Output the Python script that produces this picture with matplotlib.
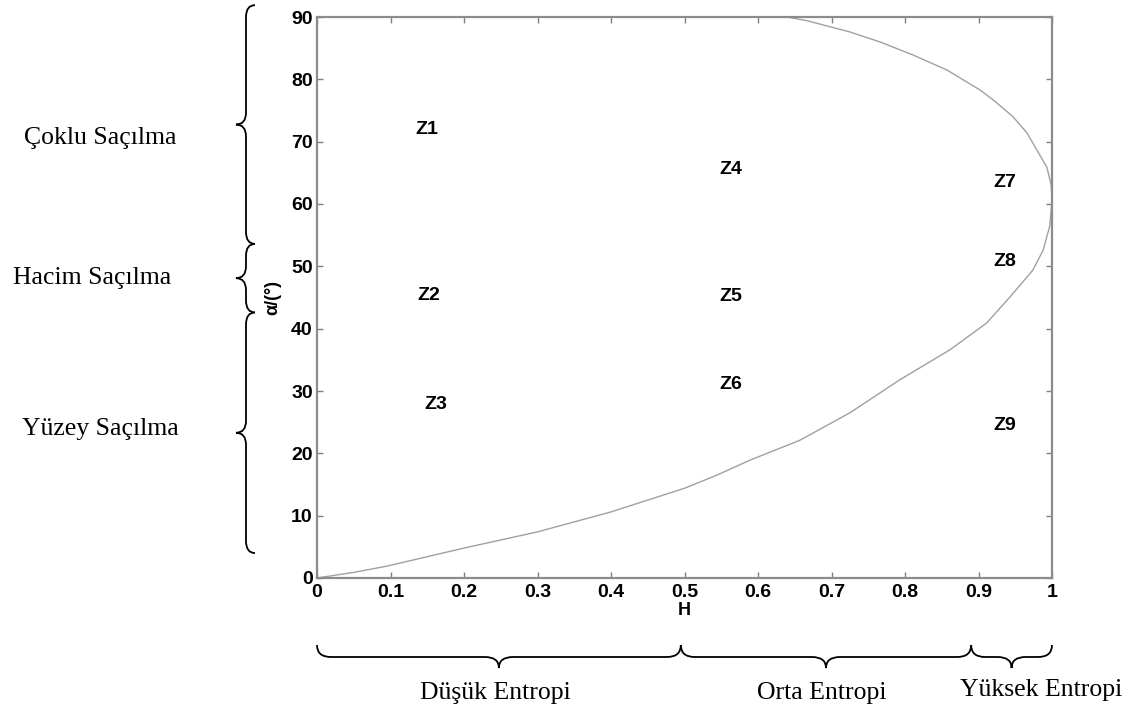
import matplotlib.pyplot as plt
from matplotlib.path import Path
from matplotlib.patches import PathPatch

# boundary curve of the H-alpha plane
H_curve = [0.0, 0.05, 0.095, 0.2, 0.3, 0.4, 0.5, 0.544, 0.589, 0.657, 0.725,
           0.793, 0.861, 0.911, 0.943, 0.974, 0.988, 0.997, 1.0, 0.999, 0.993,
           0.966, 0.947, 0.92, 0.902, 0.857, 0.811, 0.766, 0.725, 0.667, 0.639]
alpha_curve = [0.0, 0.9, 1.9, 4.8, 7.4, 10.6, 14.4, 16.5, 18.9, 22.1, 26.5,
               31.8, 36.6, 40.9, 45.1, 49.4, 52.6, 56.5, 60.5, 63.0, 65.9,
               71.4, 74.0, 76.7, 78.3, 81.5, 83.9, 86.0, 87.6, 89.4, 90.0]

zone_names = ['Z1', 'Z2', 'Z3', 'Z4', 'Z5', 'Z6', 'Z7', 'Z8', 'Z9']
zone_H = [0.150, 0.152, 0.162, 0.563, 0.563, 0.563, 0.936, 0.936, 0.936]
zone_alpha = [71.9, 45.4, 27.8, 65.5, 45.1, 31.0, 63.5, 50.7, 24.4]

x_ticks = [0, 0.1, 0.2, 0.3, 0.4, 0.5, 0.6, 0.7, 0.8, 0.9, 1.0]
x_ticklabels = ['0', '0.1', '0.2', '0.3', '0.4', '0.5', '0.6', '0.7', '0.8', '0.9', '1']
y_ticks = [0, 10, 20, 30, 40, 50, 60, 70, 80, 90]

entropy_names = ['Düşük Entropi', 'Orta Entropi', 'Yüksek Entropi']
entropy_bounds = [0.0, 0.495, 0.89, 1.0]
scatter_names = ['Çoklu Saçılma', 'Hacim Saçılma', 'Yüzey Saçılma']
alpha_bounds = [91.9, 53.6, 42.6, 4.0]

W, Hh = 1131, 711
fig = plt.figure(figsize=(W / 100, Hh / 100), dpi=100)
ax = fig.add_axes([317 / W, 1 - 578 / Hh, 735 / W, 561 / Hh])

ax.plot(H_curve, alpha_curve, color='#a0a0a0', lw=1.0)
for name, h, a in zip(zone_names, zone_H, zone_alpha):
    ax.text(h, a, name, ha='center', va='center', fontsize=14,
            fontweight='bold', family='Liberation Sans')

ax.set_xlim(0, 1)
ax.set_ylim(0, 90)
ax.set_xticks(x_ticks)
ax.set_xticklabels(x_ticklabels)
ax.set_yticks(y_ticks)
ax.tick_params(direction='in', length=4, width=1, color='#808080',
               top=True, right=True, labelsize=14)
ax.tick_params(axis='x', pad=4)
ax.tick_params(axis='y', pad=3)
for lbl in ax.get_xticklabels() + ax.get_yticklabels():
    lbl.set_fontweight('bold')
    lbl.set_family('Liberation Sans')
for sp in ax.spines.values():
    sp.set_color('#8c8c8c')
    sp.set_linewidth(1.6)

ax.set_xlabel('H', fontsize=13, fontweight='bold', family='Liberation Sans')
ax.xaxis.set_label_coords(0.5, -0.042)
ax.set_ylabel('α/(°)', fontsize=13, fontweight='bold', family='Liberation Sans')
ax.yaxis.set_label_coords(-0.048, 0.5)

# overlay in pixel coordinates for the braces
ov = fig.add_axes([0, 0, 1, 1])
ov.set_xlim(0, W)
ov.set_ylim(Hh, 0)
ov.axis('off')
ov.patch.set_alpha(0)


def to_px(h, a):
    x, y = ax.transData.transform((h, a))
    return x, Hh - y


def brace_v(x, y0, y1, tip=10, end=9):
    r = min(12, (y1 - y0) / 4)
    ym = (y0 + y1) / 2
    verts = [(x + end, y0), (x, y0), (x, y0 + r), (x, ym - r), (x, ym), (x - tip, ym),
             (x, ym), (x, ym + r), (x, y1 - r), (x, y1), (x + end, y1)]
    codes = [Path.MOVETO, Path.CURVE3, Path.CURVE3, Path.LINETO, Path.CURVE3, Path.CURVE3,
             Path.CURVE3, Path.CURVE3, Path.LINETO, Path.CURVE3, Path.CURVE3]
    ov.add_patch(PathPatch(Path(verts, codes), fill=False, lw=1.3, color='black'))


def brace_h(y, x0, x1, tip=11, end=12):
    r = min(14, (x1 - x0) / 4)
    xm = (x0 + x1) / 2
    verts = [(x0, y - end), (x0, y), (x0 + r, y), (xm - r, y), (xm, y), (xm, y + tip),
             (xm, y), (xm + r, y), (x1 - r, y), (x1, y), (x1, y - end)]
    codes = [Path.MOVETO, Path.CURVE3, Path.CURVE3, Path.LINETO, Path.CURVE3, Path.CURVE3,
             Path.CURVE3, Path.CURVE3, Path.LINETO, Path.CURVE3, Path.CURVE3]
    ov.add_patch(PathPatch(Path(verts, codes), fill=False, lw=1.3, color='black'))


serif = dict(family='Liberation Serif', fontsize=18.5, color='black')

# left braces (scattering types)
left_text_x = [100, 92, 100]
left_text_dy = [13, 0, -4]
for i, name in enumerate(scatter_names):
    _, ytop = to_px(0, alpha_bounds[i])
    _, ybot = to_px(0, alpha_bounds[i + 1])
    brace_v(246, ytop, ybot)
    ov.text(left_text_x[i], (ytop + ybot) / 2 + left_text_dy[i], name,
            ha='center', va='center', **serif)

# bottom braces (entropy classes)
bottom_text_x = [495, 822, 1041]
for i, name in enumerate(entropy_names):
    x0, _ = to_px(entropy_bounds[i], 0)
    x1, _ = to_px(entropy_bounds[i + 1], 0)
    brace_h(657, x0, x1)
    ov.text(bottom_text_x[i], 693 if i < 2 else 690, name,
            ha='center', va='center', **serif)

fig.savefig('out.png', dpi=100)
